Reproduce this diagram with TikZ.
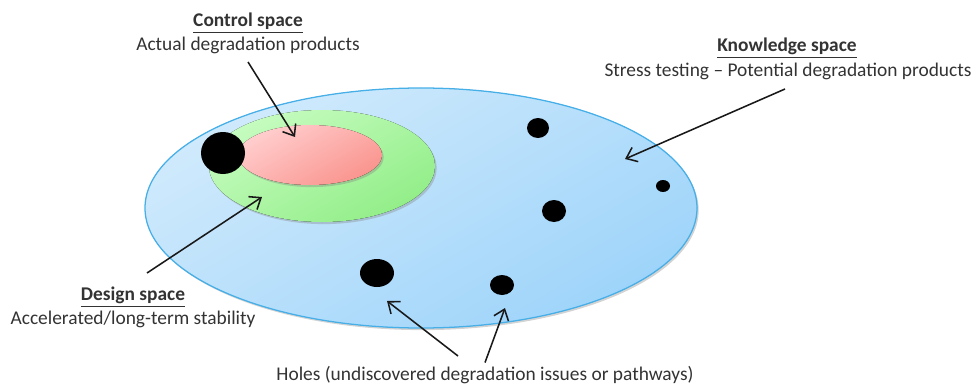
\documentclass[tikz,border=0pt]{standalone}
\usepackage{fontspec}
\setmainfont{Carlito}
\usetikzlibrary{arrows.meta, shadows}

\definecolor{knowA}{RGB}{208,234,252}
\definecolor{knowB}{RGB}{158,212,250}
\definecolor{knowLine}{RGB}{70,175,232}
\definecolor{desA}{RGB}{198,252,192}
\definecolor{desB}{RGB}{146,238,136}
\definecolor{ctrlA}{RGB}{255,206,206}
\definecolor{ctrlB}{RGB}{250,148,142}

\tikzset{
  lbl/.style={font=\fontsize{13.8}{16}\selectfont, text=black!80, inner sep=1pt},
  ttl/.style={lbl, font=\fontsize{13.8}{16}\selectfont\bfseries},
  hole/.style={fill=black},
  pointer/.style={-{Straight Barb[length=7pt,width=11pt]}, line width=1.1pt, black!90},
  soft/.style={drop shadow={shadow xshift=1.2pt, shadow yshift=-1.5pt, opacity=.35}}
}

\begin{document}
\begin{tikzpicture}[x=0.025cm, y=-0.025cm]
  \useasboundingbox (0,0) rectangle (973,387);
  % the three spaces
  \fill[soft, top color=knowA, bottom color=knowB, shading angle=30] (421,208) ellipse [x radius=276, y radius=120];
  \draw[knowLine, line width=0.9pt] (421,208) ellipse [x radius=276, y radius=120];
  \fill[soft, top color=desA, bottom color=desB, shading angle=30] (322,166) ellipse [x radius=113, y radius=56];
  \fill[soft, top color=ctrlA, bottom color=ctrlB, shading angle=30] (310,155) ellipse [x radius=72, y radius=30];
  % holes
  \fill[hole] (223,153) ellipse [x radius=22, y radius=21];
  \fill[hole] (538,128) ellipse [x radius=11, y radius=10];
  \fill[hole] (663,186) ellipse [x radius=7, y radius=6];
  \fill[hole] (554,211) ellipse [x radius=12, y radius=11];
  \fill[hole] (377,273) ellipse [x radius=17, y radius=14];
  \fill[hole] (502,285) ellipse [x radius=12, y radius=10];

  % labels
  \node[ttl] (ctrl) at (248,23) {\underline{Control space}};
  \node[lbl] (ctrlsub) at (248,45) {Actual degradation products};
  \node[ttl] (know) at (787,48) {\underline{Knowledge space}};
  \node[lbl] (knowsub) at (788,71) {Stress testing -- Potential degradation products};
  \node[ttl] (des) at (133,297) {\underline{Design space}};
  \node[lbl] (dessub) at (133,319) {Accelerated/long-term stability};
  \node[lbl] (holes) at (485,375) {Holes (undiscovered degradation issues or pathways)};

  % arrow ends
  \coordinate (fromctrl) at (248,62);
  \coordinate (fromknow) at (785,89);
  \coordinate (fromdes) at (147,273);
  \coordinate (fromholes) at (458,356);
  \coordinate (inctrl) at (295,137);
  \coordinate (inknow) at (625,159);
  \coordinate (indes) at (262,197);
  \coordinate (hA) at (387,301);
  \coordinate (hB) at (505,308);

  \draw[pointer] (fromctrl) -- (inctrl);
  \draw[pointer] (fromknow) -- (inknow);
  \draw[pointer] (fromdes) -- (indes);
  \draw[pointer] (fromholes) -- (hA);
  \draw[pointer] (holes.north) ++(0,-2) -- (hB);
\end{tikzpicture}
\end{document}
